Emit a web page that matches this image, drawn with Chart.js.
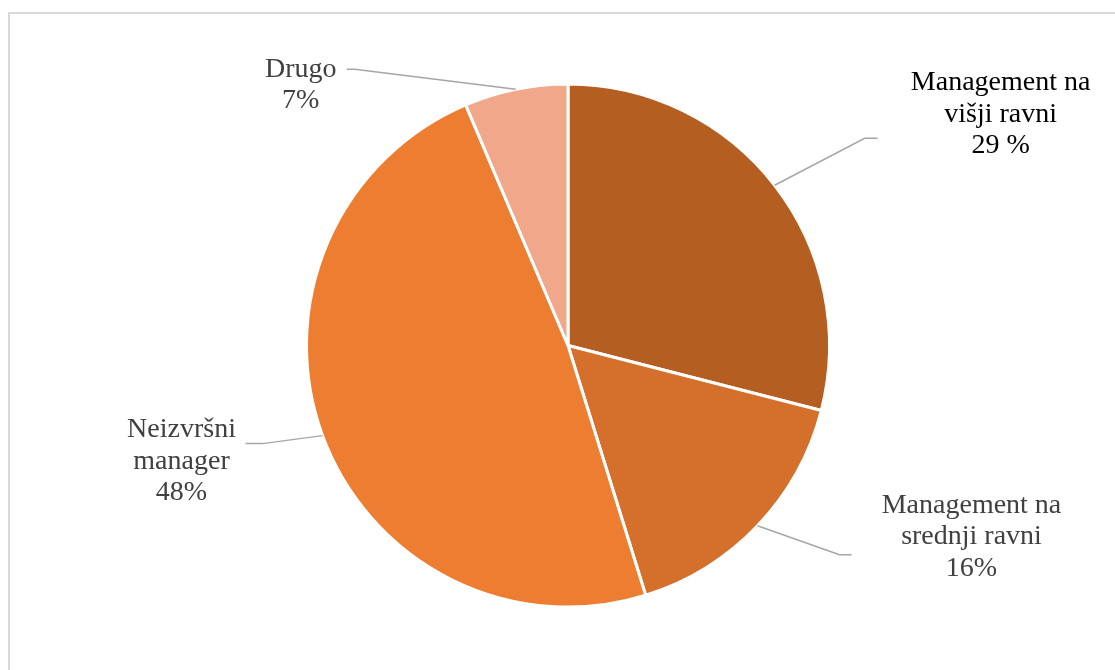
<!DOCTYPE html>
<html>
<head>
<meta charset="utf-8">
<script src="https://cdn.jsdelivr.net/npm/chart.js@4.4.1/dist/chart.umd.min.js"></script>
<style>
html,body{margin:0;padding:0;background:#fff;}
#wrap{position:relative;width:1115px;height:670px;overflow:hidden;}
#frame{position:absolute;left:8px;top:12px;width:1200px;height:800px;border-left:2px solid #d9d9d9;border-top:2px solid #d9d9d9;}
canvas{position:absolute;left:0;top:0;}
</style>
</head>
<body>
<div id="wrap">
<div id="frame"></div>
<canvas id="c" width="1115" height="670"></canvas>
</div>
<script>
// Data
const categories = ["Management na višji ravni", "Management na srednji ravni", "Neizvršni manager", "Drugo"];
const values = [29, 16.2, 48.4, 6.4];
const labelLines = [
  ["Management na", "višji ravni", "29 %"],
  ["Management na", "srednji ravni", "16%"],
  ["Neizvršni", "manager", "48%"],
  ["Drugo", "7%"]
];

// Styles
const sliceColors = ["#B45E22", "#D4702B", "#ED7D31", "#F1A88A"];
const textColors = ["#000000", "#404040", "#404040", "#404040"];
// offsets relative to the slice's outer-edge midpoint: elbow, end, text centre
const labelLayout = [
  {elbow:[90,-47], end:[103,-47], text:[226,-71]},
  {elbow:[82,29], end:[94,29], text:[214,11]},
  {elbow:[-60,8], end:[-77,8], text:[-141,26]},
  {elbow:[-161,-20], end:[-169,-20], text:[-215,-4]}
];

const leaderPlugin = {
  id: 'leaders',
  afterDatasetsDraw(chart) {
    const ctx = chart.ctx;
    const meta = chart.getDatasetMeta(0);
    ctx.save();
    meta.data.forEach((arc, i) => {
      const p = arc.getProps(['x','y','startAngle','endAngle','outerRadius'], true);
      const mid = (p.startAngle + p.endAngle) / 2;
      const ex = p.x + Math.cos(mid) * p.outerRadius;
      const ey = p.y + Math.sin(mid) * p.outerRadius;
      const L = labelLayout[i];
      ctx.strokeStyle = '#A6A6A6';
      ctx.lineWidth = 1.5;
      ctx.beginPath();
      ctx.moveTo(ex, ey);
      ctx.lineTo(ex + L.elbow[0], ey + L.elbow[1]);
      ctx.lineTo(ex + L.end[0], ey + L.end[1]);
      ctx.stroke();
      const lines = labelLines[i];
      const lh = 31.5;
      const cx = ex + L.text[0];
      const cy = ey + L.text[1];
      ctx.fillStyle = textColors[i];
      ctx.font = '28px "Liberation Serif", "Times New Roman", serif';
      ctx.textAlign = 'center';
      ctx.textBaseline = 'middle';
      lines.forEach((t, k) => {
        ctx.fillText(t, cx, cy + (k - (lines.length - 1) / 2) * lh);
      });
    });
    ctx.restore();
  }
};

new Chart(document.getElementById('c'), {
  type: 'pie',
  data: {
    labels: categories,
    datasets: [{
      data: values,
      backgroundColor: sliceColors,
      borderColor: '#ffffff',
      borderWidth: 3
    }]
  },
  options: {
    responsive: false,
    animation: false,
    layout: {padding: {left: 305, right: 284, top: 82, bottom: 61}},
    plugins: {legend: {display: false}, tooltip: {enabled: false}}
  },
  plugins: [leaderPlugin]
});
</script>
</body>
</html>
